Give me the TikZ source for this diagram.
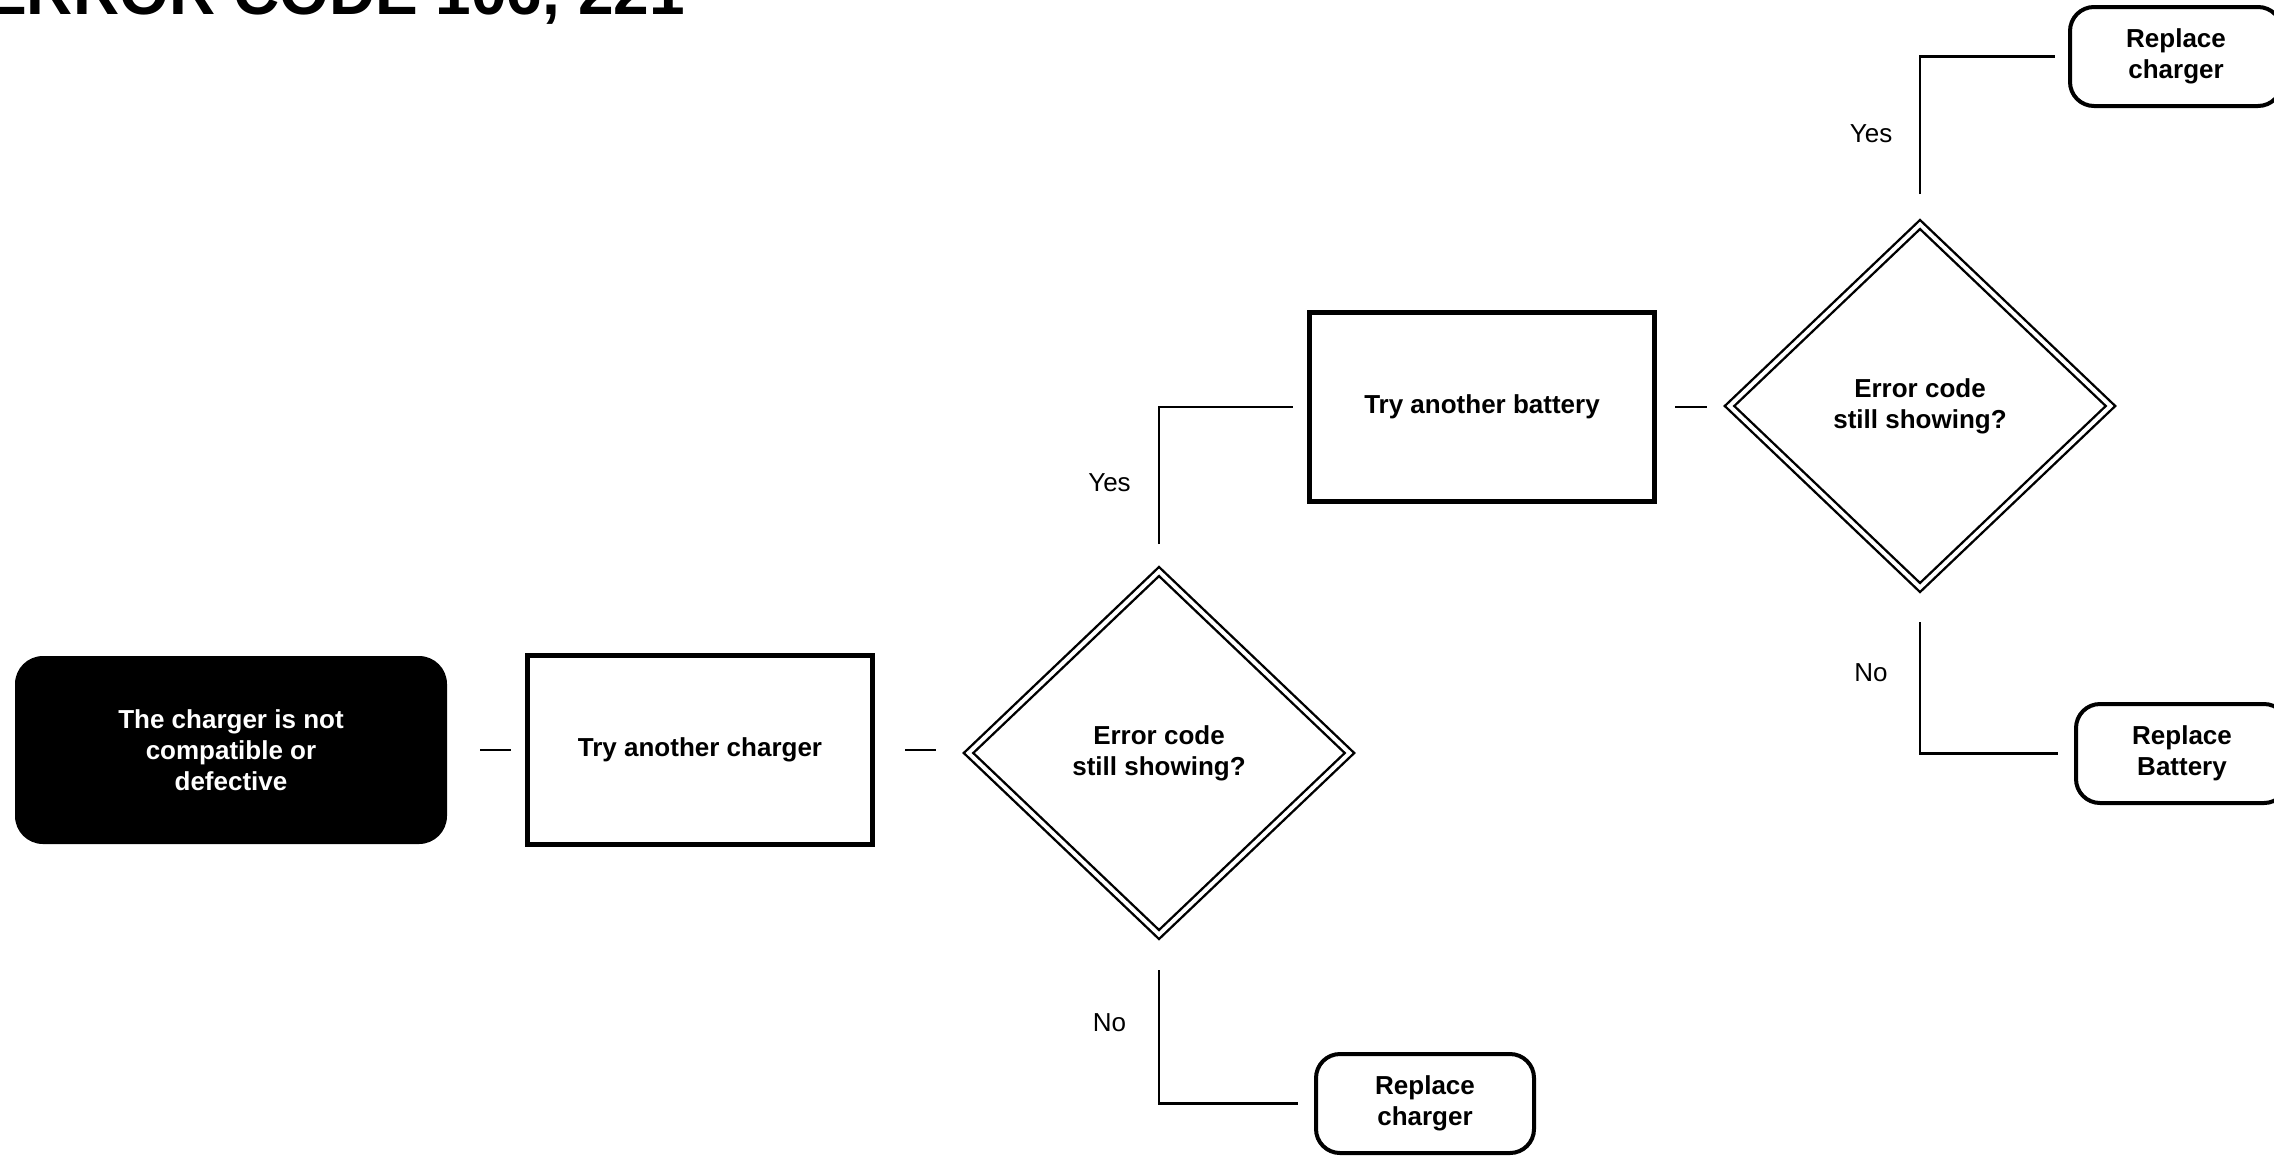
\documentclass[tikz,border=0pt]{standalone}
\usepackage{fontspec}
\setmainfont{Liberation Sans}
\usetikzlibrary{shapes.geometric,calc}
\begin{document}
\begin{tikzpicture}[x=0.5pt,y=-0.5pt,
  txt/.style={font=\fontsize{13pt}{15.5pt}\selectfont\bfseries, align=center, inner sep=0pt, outer sep=0pt},
  startbox/.style={txt, fill=black, text=white, rounded corners=14pt, minimum width=216pt, minimum height=94pt},
  actbox/.style={txt, draw, line width=2.3pt, minimum width=172.5pt, minimum height=94.5pt},
  decbox/.style={txt, diamond, draw, double, double distance=2pt, line width=1.2pt, minimum width=190.5pt, minimum height=181.5pt},
  endbox/.style={txt, draw, line width=2pt, rounded corners=12pt, minimum width=106pt, minimum height=49.5pt},
  conn/.style={line width=1.3pt},
  lbl/.style={font=\fontsize{13pt}{15.5pt}\selectfont, inner sep=0pt, outer sep=0pt},
  titlestyle/.style={font=\fontsize{32pt}{36pt}\selectfont\bfseries, inner sep=0pt, outer sep=0pt}
]
\useasboundingbox (0,0) rectangle (2274,1157);

\node[titlestyle, anchor=base east] (title) at (685,14) {ERROR CODE 106, 221};

\node[startbox] (start) at (231,750) {The charger is not\\compatible or\\defective};
\node[actbox] (tc) at (700,750) {Try another charger};
\node[decbox] (d1) at (1159,753) {Error code\\still showing?};
\node[actbox] (tb) at (1482,407) {Try another battery};
\node[decbox] (d2) at (1920,406) {Error code\\still showing?};
\node[endbox] (rc2) at (2176,56.5) {Replace\\charger};
\node[endbox] (rb) at (2182,753.5) {Replace\\Battery};
\node[endbox, minimum width=109pt] (rc1) at (1425,1103.5) {Replace\\charger};

\node[lbl] (yes1) at (1109.5,483) {Yes};
\node[lbl] (no1) at (1109.5,1022.5) {No};
\node[lbl] (yes2) at (1871,133.5) {Yes};
\node[lbl] (no2) at (1871,673) {No};

\draw[conn, shorten <=16.5pt, shorten >=8.5pt] (start.east) -- (tc.west);
\draw[conn, shorten <=16.25pt, shorten >=16.5pt] (tc.east) -- (tc.east -| d1.west);
\draw[conn, shorten <=10.25pt, shorten >=11.25pt] (tb.east) -- (tb.east -| d2.west);
\draw[conn, shorten <=13.75pt, shorten >=8.25pt] (d1.north) |- (tb.west);
\draw[conn, shorten <=15.25pt, shorten >=7.5pt] (d2.north) |- (rc2.west);
\draw[conn, shorten <=17.25pt, shorten >=9pt] (d2.south) |- (rb.west);
\draw[conn, shorten <=17.75pt, shorten >=9pt] (d1.south) |- (rc1.west);
\end{tikzpicture}
\end{document}
